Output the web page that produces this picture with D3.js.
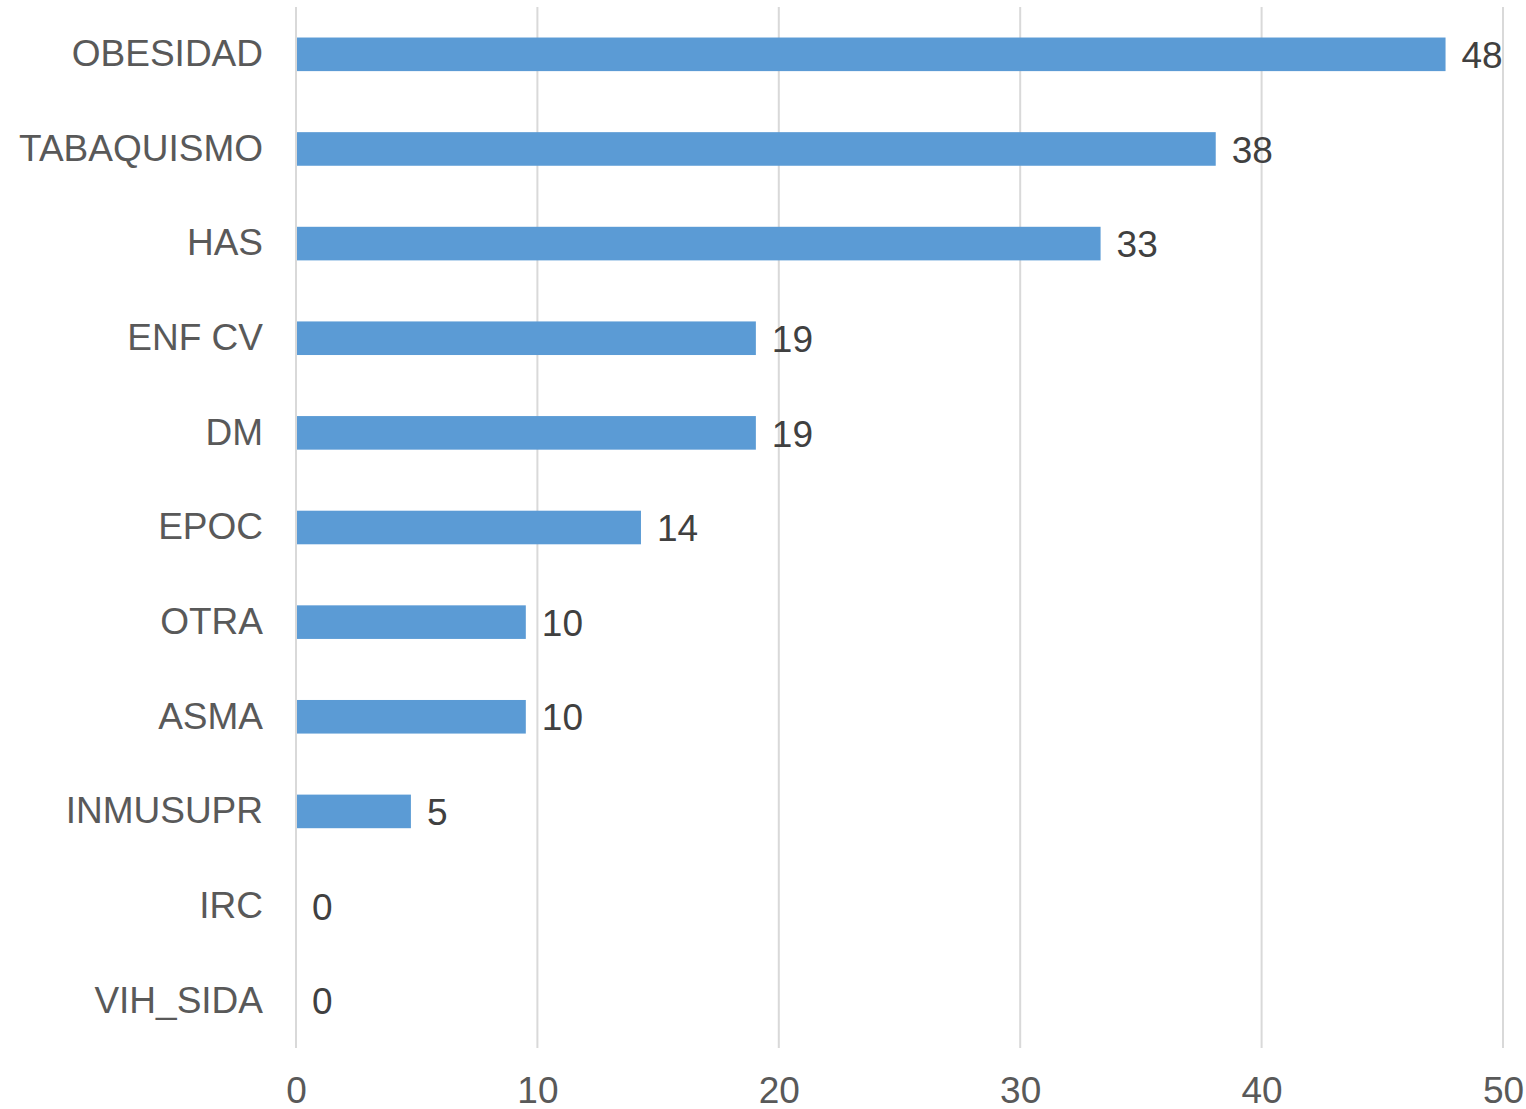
<!DOCTYPE html>
<html><head><meta charset="utf-8">
<script src="https://cdn.jsdelivr.net/npm/d3@7"></script>
<style>body{margin:0;background:#fff}svg{display:block}</style>
</head><body>
<svg id="c" width="1526" height="1109"></svg>
<script>
const categories = ["OBESIDAD","TABAQUISMO","HAS","ENF CV","DM","EPOC","OTRA","ASMA","INMUSUPR","IRC","VIH_SIDA"];
const values = [47.62, 38.10, 33.33, 19.05, 19.05, 14.29, 9.52, 9.52, 4.76, 0, 0];
const labels = ["48","38","33","19","19","14","10","10","5","0","0"];
const xTicks = [0,10,20,30,40,50];

(function(){
const svg = d3.select("#c");
const pLeft = 296, pRight = 1503, pTop = 7, pBottom = 1048;
const x = d3.scaleLinear().domain([0,50]).range([pLeft,pRight]);
const y = d3.scaleBand().domain(categories).range([pTop,pBottom]).paddingInner(0.645).paddingOuter(0.3225);
const font = "'Liberation Sans', Arial, sans-serif";
const fs = 37;

svg.append("g").selectAll("line").data(xTicks).join("line")
  .attr("x1", d=>x(d)).attr("x2", d=>x(d)).attr("y1", pTop).attr("y2", pBottom)
  .attr("stroke", "#d9d9d9").attr("stroke-width", 2);

svg.append("g").selectAll("rect").data(values).join("rect")
  .attr("x", x(0)+1).attr("y", (d,i)=>y(categories[i]))
  .attr("width", d=>Math.max(0, x(d)-x(0)-1)).attr("height", y.bandwidth())
  .attr("fill", "#5b9bd5");

svg.append("g").selectAll("text").data(labels).join("text")
  .attr("x", (d,i)=>x(values[i])+16).attr("y", (d,i)=>y(categories[i])+y.bandwidth()/2)
  .attr("dy", "0.37em").attr("font-family", font).attr("font-size", fs).attr("fill", "#404040")
  .text(d=>d);

const yAxis = svg.append("g").attr("transform", `translate(${pLeft},0)`)
  .call(d3.axisLeft(y).tickSize(0).tickPadding(33));
yAxis.select(".domain").remove();
yAxis.selectAll("text").attr("font-family", font).attr("font-size", fs).attr("fill", "#595959").attr("dy","0.32em");

const xAxis = svg.append("g").attr("transform", `translate(0,${pBottom})`)
  .call(d3.axisBottom(x).tickValues(xTicks).tickSize(0).tickPadding(29));
xAxis.select(".domain").remove();
xAxis.selectAll("text").attr("font-family", font).attr("font-size", fs).attr("fill", "#595959");
})();
</script>
</body></html>
